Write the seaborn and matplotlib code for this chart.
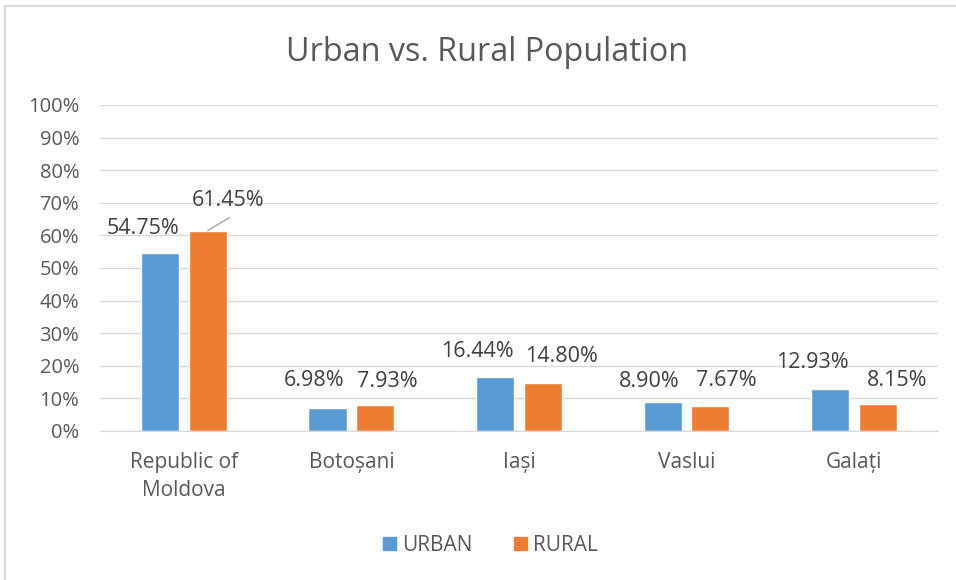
import pandas as pd
import seaborn as sb
import matplotlib.pyplot as plt
from matplotlib.lines import Line2D
from matplotlib.transforms import offset_copy

regions = ["Republic of\nMoldova", "Botoșani", "Iași", "Vaslui", "Galați"]
urban = [54.75, 6.98, 16.44, 8.90, 12.93]
rural = [61.45, 7.93, 14.80, 7.67, 8.15]
series = ["URBAN", "RURAL"]
colors = ["#5b9bd5", "#ed7d31"]

df = pd.DataFrame({
    "region": regions * 2,
    "series": ["URBAN"] * len(regions) + ["RURAL"] * len(regions),
    "value": urban + rural,
})

sb.set_style("white")
plt.rcParams['font.family'] = ['Open Sans', 'DejaVu Sans']

fig = plt.figure(figsize=(9.56, 5.8), dpi=100)
ax = fig.add_axes([0.1046, 0.2569, 0.8764, 0.5621])
sb.barplot(data=df, x="region", y="value", hue="series", hue_order=series,
           palette=colors, width=0.57, gap=0.2, saturation=1, ax=ax, legend=False)

ax.set_ylim(0, 100)
ax.set_xlim(-0.5, len(regions) - 0.5)
ax.set_yticks(range(0, 101, 10))
ax.set_yticklabels([f"{v}%" for v in range(0, 101, 10)], fontsize=14.5, color="#595959")
ax.tick_params(axis="x", labelsize=15, labelcolor="#595959", length=0, pad=15)
ax.tick_params(axis="y", length=0, pad=15)
for t in ax.get_xticklabels():
    t.set_linespacing(1.45)
ax.set_xlabel("")
ax.set_ylabel("")
ax.grid(axis="y", color="#d9d9d9", linewidth=1)
ax.set_axisbelow(True)
for s in ["top", "right", "left"]:
    ax.spines[s].set_visible(False)
ax.spines["bottom"].set_color("#d9d9d9")

# label nudges: (dx in pixels, dy in % above bar top) keyed by (category, series)
nudge = {
    (0, 0): (-17, 7.5), (0, 1): (20, 9.4),
    (1, 0): (-13, 8.4), (1, 1): (12, 7.4),
    (2, 0): (-18, 7.8), (2, 1): (19, 7.9),
    (3, 0): (-13, 6.4), (3, 1): (16, 7.7),
    (4, 0): (-18, 8.2), (4, 1): (19, 7.2),
}
vals = [urban, rural]
for h, cont in enumerate(ax.containers):
    for i, bar in enumerate(cont):
        x = bar.get_x() + bar.get_width() / 2
        y = bar.get_height()
        dx, dy = nudge[(i, h)]
        tr = offset_copy(ax.transData, fig=fig, x=dx, y=0, units="dots")
        ax.text(x, y + dy, f"{vals[h][i]:.2f}%", ha="center", va="center",
                fontsize=15.5, color="#404040", transform=tr)
        if (i, h) == (0, 1):
            ax.plot([x, x + 0.13], [y, y + 4], color="#a6a6a6", linewidth=1)

fig.text(0.51, 0.91, "Urban vs. Rural Population", ha="center", va="center",
         fontsize=23.3, color="#595959")

handles = [plt.Rectangle((0, 0), 1, 1, color=c) for c in colors]
fig.legend(handles, series, loc="center", bbox_to_anchor=(0.513, 0.06), ncol=2,
           frameon=False, fontsize=15, labelcolor="#595959", handlelength=0.6,
           handleheight=0.6, columnspacing=2.0, handletextpad=0.3)

# chart frame (left and top edges visible)
fig.add_artist(Line2D([0.005, 0.005], [0, 0.99], color="#d9d9d9", linewidth=1.5,
                      transform=fig.transFigure))
fig.add_artist(Line2D([0.005, 1], [0.99, 0.99], color="#d9d9d9", linewidth=1.5,
                      transform=fig.transFigure))

plt.savefig("out.png", dpi=100)
plt.close()
